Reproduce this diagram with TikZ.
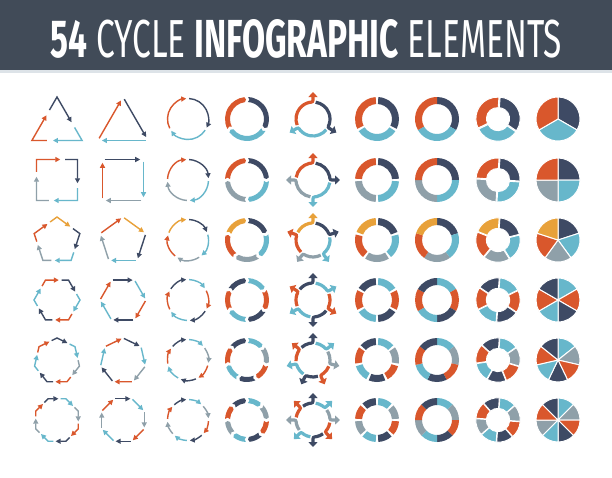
\documentclass[tikz,border=0pt]{standalone}
\usepackage{fontspec}
\usepackage{tikz}
\usetikzlibrary{calc, arrows.meta}
\newfontfamily\titlefont{Fira Sans}
\definecolor{cnavy}{HTML}{3E4A64}
\definecolor{cblue}{HTML}{67B7CB}
\definecolor{corange}{HTML}{D9572C}
\definecolor{cgrey}{HTML}{8FA0A9}
\definecolor{cyellow}{HTML}{E8A13A}
\definecolor{cheader}{HTML}{414B58}
\definecolor{cline}{HTML}{DDE3E8}

% polygon, one bent arrow round each corner
\newcommand{\vertexarrows}[6]{%
  \begin{scope}[shift={(#1,-#2)}]
    \foreach \c [count=\k from 0] in #6 {
      \pgfmathsetmacro\ta{90-#5-360*\k/#3}
      \draw[thin arrow,\c] ($(\ta:#4pt)!0.3!({\ta+360/#3}:#4pt)$) -- (\ta:#4pt) -- ($(\ta:#4pt)!0.58!({\ta-360/#3}:#4pt)$);
    }
  \end{scope}}
% polygon, one arrow on each side
\newcommand{\sidearrows}[6]{%
  \begin{scope}[shift={(#1,-#2)}]
    \foreach \c [count=\k from 0] in #6 {
      \pgfmathsetmacro\ta{90-#5-360*\k/#3}
      \pgfmathsetmacro\tb{\ta-360/#3}
      \draw[thin arrow,\c] ($(\ta:#4pt)!0.05!(\tb:#4pt)$) -- ($(\ta:#4pt)!0.92!(\tb:#4pt)$);
    }
  \end{scope}}
% circle of thin arc arrows
\newcommand{\arcarrows}[4]{%
  \begin{scope}[shift={(#1,-#2)}]
    \foreach \c [count=\k from 0] in #4 {
      \pgfmathsetmacro\ta{90-360*\k/#3-3}
      \pgfmathsetmacro\tb{90-360*(\k+1)/#3+5}
      \draw[thin arrow,\c] (\ta:20.5pt) arc[start angle=\ta, end angle=\tb, radius=20.5pt];
    }
  \end{scope}}
% ring of thick pointed segments
\newcommand{\chevronring}[4]{%
  \begin{scope}[shift={(#1,-#2)}]
    \foreach \c [count=\k from 0] in #4 {
      \pgfmathsetmacro\ta{90-360*\k/#3-3}
      \pgfmathsetmacro\tb{90-360*(\k+1)/#3+7}
      \fill[\c] (\ta:22pt) arc[start angle=\ta, end angle=\tb, radius=22pt] -- ({\tb-4}:19.5pt) -- (\tb:17pt) arc[start angle=\tb, end angle=\ta, radius=17pt] -- ({\ta-4}:19.5pt) -- cycle;
    }
  \end{scope}}
% arcs turning out into radial arrows
\newcommand{\turnarrows}[4]{%
  \begin{scope}[shift={(#1,-#2)}]
    \foreach \c [count=\k from 0] in #4 {
      \pgfmathsetmacro\ta{90-360*\k/#3-9}
      \pgfmathsetmacro\tb{90-360*(\k+1)/#3}
      \draw[\c, line width=3.2pt, -{Triangle[length=5pt,width=9pt]}] (\ta:17pt) arc[start angle=\ta, end angle=\tb+13, radius=17pt] .. controls (\tb:17pt) .. (\tb:21pt) -- (\tb:27pt);
    }
  \end{scope}}
% donut with gaps
\newcommand{\gapring}[4]{%
  \begin{scope}[shift={(#1,-#2)}]
    \foreach \c [count=\k from 0] in #4 {
      \pgfmathsetmacro\ta{90-360*\k/#3-3.5}
      \pgfmathsetmacro\tb{90-360*(\k+1)/#3+3.5}
      \fill[\c] (\ta:22pt) arc[start angle=\ta, end angle=\tb, radius=22pt] -- (\tb:15pt) arc[start angle=\tb, end angle=\ta, radius=15pt] -- cycle;
    }
  \end{scope}}
% closed donut
\newcommand{\fullring}[4]{%
  \begin{scope}[shift={(#1,-#2)}]
    \foreach \c [count=\k from 0] in #4 {
      \pgfmathsetmacro\ta{90-360*\k/#3}
      \pgfmathsetmacro\tb{90-360*(\k+1)/#3}
      \fill[\c] (\ta:22pt) arc[start angle=\ta, end angle=\tb, radius=22pt] -- (\tb:15pt) arc[start angle=\tb, end angle=\ta, radius=15pt] -- cycle;
    }
  \end{scope}}
% thick donut, pieces pushed apart
\newcommand{\splitring}[4]{%
  \begin{scope}[shift={(#1,-#2)}]
    \foreach \c [count=\k from 0] in #4 {
      \pgfmathsetmacro\ta{90-360*\k/#3-4}
      \pgfmathsetmacro\tb{90-360*(\k+1)/#3-4}
      \pgfmathsetmacro\tm{(\ta+\tb)/2}
      \fill[\c, draw=white, line width=0.9pt, shift={(\tm:0.7pt)}] (\ta:21.5pt) arc[start angle=\ta, end angle=\tb, radius=21.5pt] -- (\tb:11pt) arc[start angle=\tb, end angle=\ta, radius=11pt] -- cycle;
    }
  \end{scope}}
% pie
\newcommand{\piechart}[4]{%
  \begin{scope}[shift={(#1,-#2)}]
    \foreach \c [count=\k from 0] in #4 {
      \pgfmathsetmacro\ta{90-360*\k/#3}
      \pgfmathsetmacro\tb{90-360*(\k+1)/#3}
      \fill[\c, draw=white, line width=1pt] (0,0) -- (\ta:22pt) arc[start angle=\ta, end angle=\tb, radius=22pt] -- cycle;
    }
  \end{scope}}

\begin{document}
\begin{tikzpicture}[x=1pt, y=1pt,
    thin arrow/.style={line width=1.4pt, -{Triangle[length=5pt,width=5pt]}}]
  \useasboundingbox (0,0) rectangle (612,-477);
  \fill[white] (0,0) rectangle (612,-477);
  % title bar
  \fill[cheader] (0,0) rectangle (612,-70);
  \fill[cline] (0,-70) rectangle (612,-72.5);
  \node[inner sep=0, text=white] (title) at (306.5,-39)
    {\resizebox{511pt}{38pt}{\titlefont\textbf{54} CYCLE \textbf{INFOGRAPHIC} ELEMENTS}};

  % one row for every number of steps
  \foreach \nseg/\ypos/\cols/\offa/\offb/\rad/\shifty in {
      3/119/{cnavy,cblue,corange}/0/0/29/7,
      4/180/{cnavy,cblue,cgrey,corange}/45/-45/29/0,
      5/240/{cnavy,cblue,cgrey,corange,cyellow}/72/72/24/1,
      6/300/{cblue,corange,cnavy,cblue,corange,cnavy}/90/30/23/0,
      7/360/{cblue,cgrey,corange,cnavy,cblue,corange,cnavy}/51.43/51.43/23/1,
      8/420/{cblue,cgrey,corange,cnavy,cblue,cgrey,corange,cnavy}/22.5/22.5/23/0}
  {
    \pgfmathsetmacro\ypoly{\ypos+\shifty}
    \vertexarrows{57}{\ypoly}{\nseg}{\rad}{\offa}{\cols}
    \sidearrows{123}{\ypoly}{\nseg}{\rad}{\offb}{\cols}
    \arcarrows{188}{\ypos}{\nseg}{\cols}
    \chevronring{247}{\ypos}{\nseg}{\cols}
    \turnarrows{313}{\ypos}{\nseg}{\cols}
    \gapring{377}{\ypos}{\nseg}{\cols}
    \fullring{437}{\ypos}{\nseg}{\cols}
    \splitring{498}{\ypos}{\nseg}{\cols}
    \piechart{558}{\ypos}{\nseg}{\cols}
  }
\end{tikzpicture}
\end{document}
